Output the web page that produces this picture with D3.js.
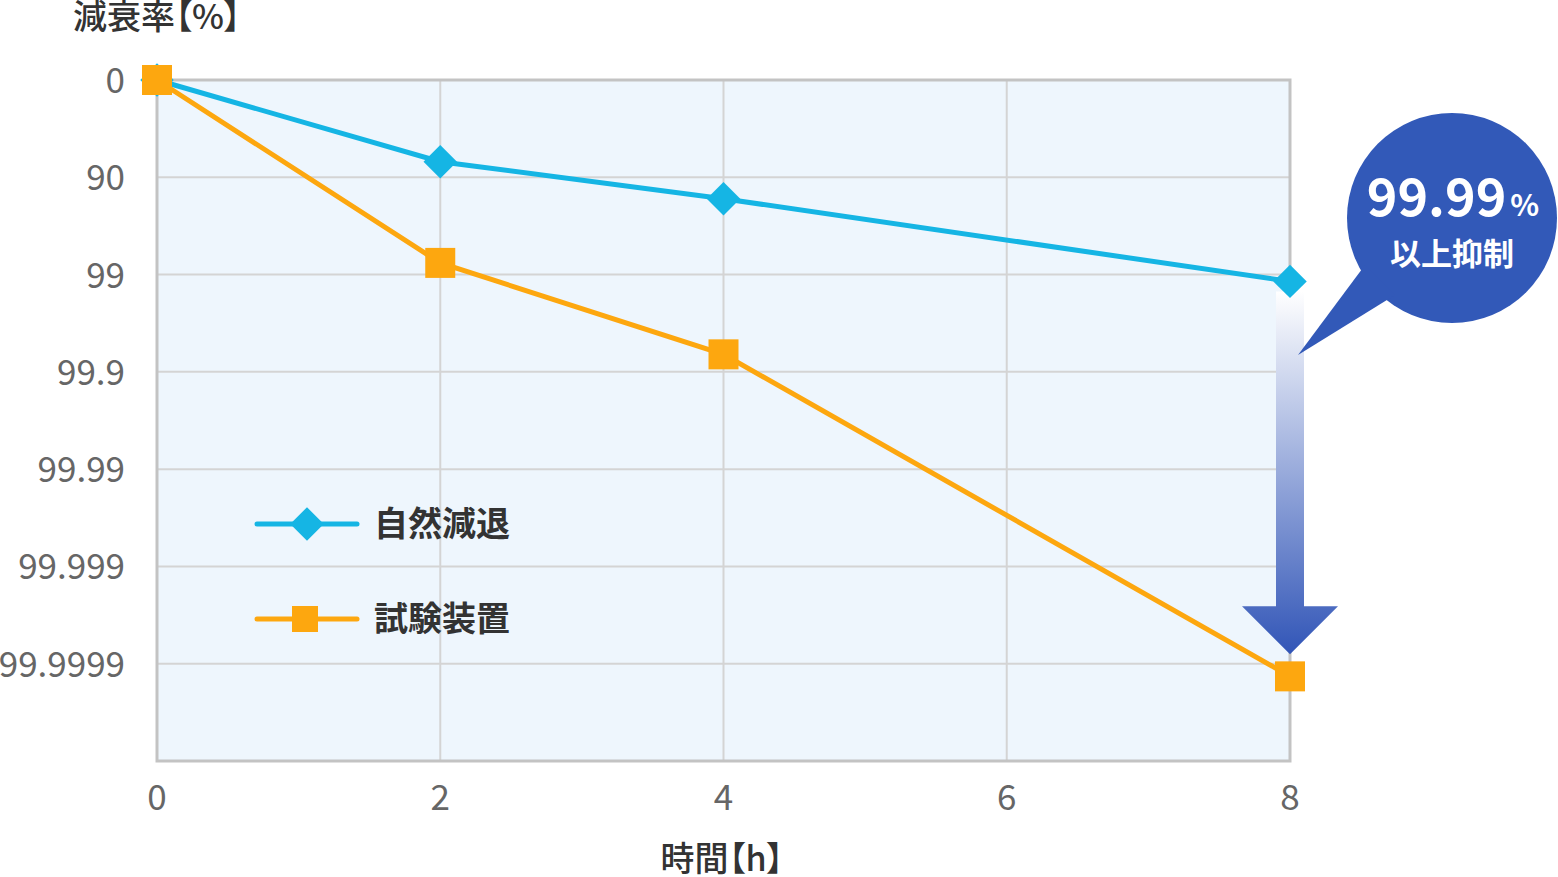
<!DOCTYPE html>
<html>
<head>
    <meta charset="utf-8">
    <title>減衰率</title>
    <script src="https://d3js.org/d3.v7.min.js"></script>
    <style>
        body {
            margin: 0;
            padding: 0;
            background: #fff;
            font-family: 'Noto Sans CJK JP', 'Noto Sans', sans-serif;
        }
        .tick-label {
            fill: #666;
            font-size: 35px;
        }
        .title {
            fill: #333;
            font-size: 34px;
            font-weight: 500;
            font-feature-settings: "palt";
        }
        .legend-text {
            fill: #333;
            font-size: 34px;
            font-weight: 700;
        }
    </style>
</head>
<body>
    <svg id="chart" width="1558" height="877"></svg>
    <script>
        // 時間 (h)
        const hours = [0, 2, 4, 8];
        // 対数減少値 (0 = 0%, 1 = 90%, 2 = 99% ...)
        const naturalDecay = [0, 0.84, 1.22, 2.07];
        const testDevice = [0, 1.88, 2.82, 6.13];
        const yTickLabels = ["0", "90", "99", "99.9", "99.99", "99.999", "99.9999"];
        const xTicks = [0, 2, 4, 6, 8];
        const seriesNames = ["自然減退", "試験装置"];

        const blue = "#15b5e4";
        const orange = "#fda70f";

        const svg = d3.select("#chart");
        const x = d3.scaleLinear().domain([0, 8]).range([157, 1290]);
        const y = d3.scaleLinear().domain([0, 7]).range([80, 761]);

        const defs = svg.append("defs");
        const grad = defs.append("linearGradient")
            .attr("id", "arrowGrad")
            .attr("x1", 0).attr("y1", 0).attr("x2", 0).attr("y2", 1);
        grad.append("stop").attr("offset", "0%").attr("stop-color", "#ffffff");
        grad.append("stop").attr("offset", "100%").attr("stop-color", "#3155b7");

        // plot background
        svg.append("rect")
            .attr("x", x(0)).attr("y", y(0))
            .attr("width", x(8) - x(0)).attr("height", y(7) - y(0))
            .attr("fill", "#eef6fd");

        // grid
        svg.append("g").selectAll("line")
            .data(d3.range(1, 7))
            .join("line")
            .attr("x1", x(0)).attr("x2", x(8))
            .attr("y1", d => y(d)).attr("y2", d => y(d))
            .attr("stroke", "#d4d4d4").attr("stroke-width", 2);
        svg.append("g").selectAll("line")
            .data([2, 4, 6])
            .join("line")
            .attr("x1", d => x(d)).attr("x2", d => x(d))
            .attr("y1", y(0)).attr("y2", y(7))
            .attr("stroke", "#d4d4d4").attr("stroke-width", 2);

        // frame
        svg.append("rect")
            .attr("x", x(0)).attr("y", y(0))
            .attr("width", x(8) - x(0)).attr("height", y(7) - y(0))
            .attr("fill", "none")
            .attr("stroke", "#c3c3c3").attr("stroke-width", 3);

        // axes labels
        svg.append("g").selectAll("text")
            .data(yTickLabels)
            .join("text")
            .attr("class", "tick-label")
            .attr("x", 125)
            .attr("y", (d, i) => y(i) + 13)
            .attr("text-anchor", "end")
            .text(d => d);
        svg.append("g").selectAll("text")
            .data(xTicks)
            .join("text")
            .attr("class", "tick-label")
            .attr("x", d => x(d))
            .attr("y", 810)
            .attr("text-anchor", "middle")
            .text(d => d);

        svg.append("text").attr("class", "title")
            .attr("x", 73).attr("y", 29).text("減衰率【%】");
        svg.append("text").attr("class", "title")
            .attr("x", 722).attr("y", 871).attr("text-anchor", "middle")
            .text("時間【h】");

        // arrow
        const ax = x(8);
        const arrowTop = y(naturalDecay[3]) + 10;
        const arrowBottom = y(testDevice[3]) - 22;
        svg.append("path")
            .attr("d", `M${ax - 14},${arrowTop} L${ax + 14},${arrowTop} L${ax + 14},${arrowBottom - 48}
                        L${ax + 48},${arrowBottom - 48} L${ax},${arrowBottom} L${ax - 48},${arrowBottom - 48}
                        L${ax - 14},${arrowBottom - 48} Z`)
            .attr("fill", "url(#arrowGrad)");

        // lines
        const line = d3.line().x((d, i) => x(hours[i])).y(d => y(d));
        svg.append("path").datum(naturalDecay)
            .attr("d", line).attr("fill", "none")
            .attr("stroke", blue).attr("stroke-width", 5);
        svg.append("path").datum(testDevice)
            .attr("d", line).attr("fill", "none")
            .attr("stroke", orange).attr("stroke-width", 5);

        const diamond = d3.symbol().type(d3.symbolSquare).size(560);
        svg.append("g").selectAll("path")
            .data(naturalDecay)
            .join("path")
            .attr("d", diamond)
            .attr("transform", (d, i) => `translate(${x(hours[i])},${y(d)}) rotate(45)`)
            .attr("fill", blue);
        svg.append("g").selectAll("rect")
            .data(testDevice)
            .join("rect")
            .attr("x", (d, i) => x(hours[i]) - 15)
            .attr("y", d => y(d) - 15)
            .attr("width", 30).attr("height", 30)
            .attr("fill", orange);

        // legend
        const legend = svg.append("g");
        [blue, orange].forEach((c, i) => {
            const ly = 524 + i * 95;
            legend.append("line")
                .attr("x1", 257).attr("x2", 357).attr("y1", ly).attr("y2", ly)
                .attr("stroke", c).attr("stroke-width", 5).attr("stroke-linecap", "round");
            if (i === 0) {
                legend.append("path").attr("d", diamond)
                    .attr("transform", `translate(307,${ly}) rotate(45)`).attr("fill", c);
            } else {
                legend.append("rect").attr("x", 292).attr("y", ly - 13)
                    .attr("width", 26).attr("height", 26).attr("fill", c);
            }
            legend.append("text").attr("class", "legend-text")
                .attr("x", 374).attr("y", ly + 12).text(seriesNames[i]);
        });

        // callout bubble
        const bubble = svg.append("g");
        bubble.append("circle").attr("cx", 1452).attr("cy", 218).attr("r", 105).attr("fill", "#3259b8");
        bubble.append("path")
            .attr("d", "M1365,265 L1395,295 L1298,355 Z")
            .attr("fill", "#3259b8");
        const t1 = bubble.append("text")
            .attr("x", 1453).attr("y", 216).attr("text-anchor", "middle")
            .attr("fill", "#fff").attr("font-weight", 700);
        t1.append("tspan").attr("font-size", 52).text("99.99");
        t1.append("tspan").attr("font-size", 30).attr("dx", 4).text("%");
        bubble.append("text")
            .attr("x", 1452).attr("y", 265).attr("text-anchor", "middle")
            .attr("fill", "#fff").attr("font-weight", 700).attr("font-size", 31)
            .text("以上抑制");
    </script>
</body>
</html>
